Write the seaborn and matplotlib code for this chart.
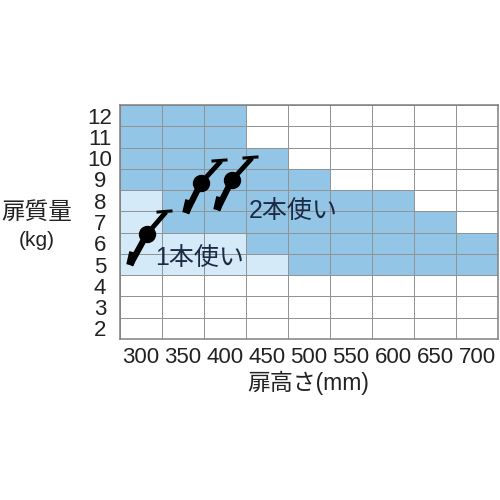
import matplotlib
matplotlib.use('Agg')  # Use non-interactive backend
from matplotlib.colors import ListedColormap
import matplotlib.pyplot as plt
import numpy as np
import pandas as pd
import seaborn as sns

# door height (mm) and door mass (kg)
heights = [300, 350, 400, 450, 500, 550, 600, 650, 700]
masses = [12, 11, 10, 9, 8, 7, 6, 5, 4, 3, 2]

# 0 = not usable, 1 = one hinge, 2 = two hinges
row_12 = [2, 2, 2, 0, 0, 0, 0, 0, 0]
row_11 = [2, 2, 2, 0, 0, 0, 0, 0, 0]
row_10 = [2, 2, 2, 2, 0, 0, 0, 0, 0]
row_9 = [2, 2, 2, 2, 2, 0, 0, 0, 0]
row_8 = [1, 2, 2, 2, 2, 2, 2, 0, 0]
row_7 = [1, 2, 2, 2, 2, 2, 2, 2, 0]
row_6 = [1, 1, 1, 2, 2, 2, 2, 2, 2]
row_5 = [1, 1, 1, 1, 2, 2, 2, 2, 2]
row_4 = [0, 0, 0, 0, 0, 0, 0, 0, 0]
row_3 = [0, 0, 0, 0, 0, 0, 0, 0, 0]
row_2 = [0, 0, 0, 0, 0, 0, 0, 0, 0]

# hinge pictures, pixel positions: tail, knob, tip
hinges = [
    ((130, 265), (147, 234), (166, 212)),
    ((186, 213), (201, 183), (221, 161)),
    ((217, 210), (232, 180), (252, 158)),
]

table = pd.DataFrame(
    [row_12, row_11, row_10, row_9, row_8, row_7, row_6, row_5, row_4, row_3, row_2],
    index=masses, columns=heights)

plt.rcParams['font.family'] = ['Liberation Sans', 'Noto Sans CJK JP', 'DejaVu Sans']

fig = plt.figure(figsize=(5, 5), dpi=100)
ax = fig.add_axes([120 / 500, 161 / 500, 378 / 500, 234 / 500])

sns.heatmap(table, ax=ax, cmap=ListedColormap(['#ffffff', '#d4eaf8', '#93c6e6']),
            vmin=0, vmax=2, cbar=False, linewidths=0.7, linecolor='#8f9496')
for spine in ax.spines.values():
    spine.set_visible(True)
    spine.set_color('#808080')
    spine.set_linewidth(1.1)

ax.tick_params(length=0)
ax.tick_params(axis='x', labelsize=16, pad=6, labelcolor='#222222', labelrotation=0)
ax.tick_params(axis='y', labelsize=16, pad=0, labelcolor='#222222', labelrotation=0)
for label in ax.get_yticklabels():
    label.set_ha('center')
    label.set_va('center_baseline')
    label.set_x(-20 / 378)
ax.set_xlabel('')
ax.set_ylabel('')

# overlay in pixels for the hinge pictures and the labels
over = fig.add_axes([0, 0, 1, 1])
over.set_xlim(0, 500)
over.set_ylim(500, 0)
over.axis('off')

for tail, knob, tip in hinges:
    over.plot([tail[0], knob[0]], [tail[1], knob[1]], color='black', lw=4.5,
              solid_capstyle='butt')
    over.plot([knob[0], tip[0]], [knob[1], tip[1]], color='black', lw=3.5,
              solid_capstyle='butt')
    over.plot([tail[0], tail[0] + 3], [tail[1], tail[1] - 13], color='black', lw=5.5,
              solid_capstyle='butt')
    over.plot([tip[0] - 8, tip[0] + 5], [tip[1], tip[1] - 1], color='black', lw=2.2)
    over.plot(knob[0], knob[1], 'o', color='black', ms=11.5)

text_color = '#1b2b45'
over.text(293, 211, '2本使い', fontsize=18, color=text_color, ha='center', va='center')
over.text(200, 258, '1本使い', fontsize=18, color=text_color, ha='center', va='center')
over.text(37, 213, '扉質量', fontsize=17, color='#222222', ha='center', va='center')
over.text(37, 241, '(kg)', fontsize=15, color='#222222', ha='center', va='center')
over.text(308, 383, '扉高さ(mm)', fontsize=16.5, color='#222222', ha='center', va='center')

fig.savefig('out.png', dpi=100)
